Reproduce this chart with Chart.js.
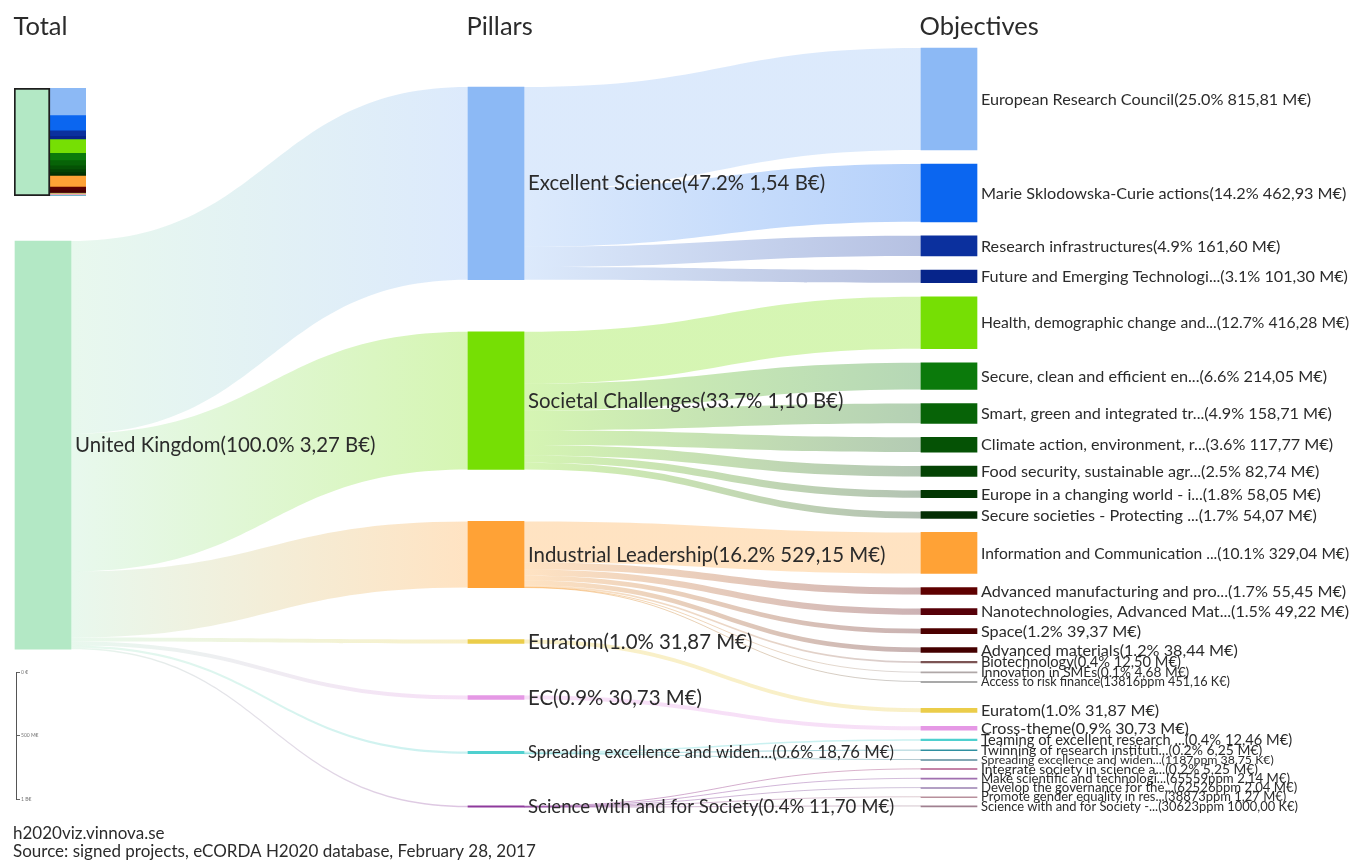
<!DOCTYPE html>
<html>
<head>
<meta charset="utf-8">
<script src="https://cdn.jsdelivr.net/npm/chart.js@4.4.1/dist/chart.umd.min.js"></script>
<style>
html,body{margin:0;padding:0;background:#fff;}
#wrap{position:relative;width:1363px;height:861px;overflow:hidden;}
#main{position:absolute;left:0;top:0;}
#mini{position:absolute;left:14px;top:88px;}
#scale{position:absolute;left:15px;top:662px;}
</style>
</head>
<body>
<div id="wrap">
<canvas id="main" width="1363" height="861"></canvas>
<canvas id="mini" width="72" height="108"></canvas>
<canvas id="scale" width="50" height="145"></canvas>
</div>
<script>
// ---------------- DATA ----------------
const columnTitles = ['Total', 'Pillars', 'Objectives'];

const totalLabel = 'United Kingdom(100.0% 3,27 B€)';
const totalValue = 3265.51; // M€
const totalColor = '#b3e8c5';

const pillarLabels = [
  'Excellent Science(47.2% 1,54 B€)',
  'Societal Challenges(33.7% 1,10 B€)',
  'Industrial Leadership(16.2% 529,15 M€)',
  'Euratom(1.0% 31,87 M€)',
  'EC(0.9% 30,73 M€)',
  'Spreading excellence and widen...(0.6% 18,76 M€)',
  'Science with and for Society(0.4% 11,70 M€)'
];
const pillarValues = [1541.64, 1101.67, 529.15, 31.87, 30.73, 18.76, 11.70];
const pillarColors = ['#8cb9f5', '#76df04', '#ffa236', '#ebcd4a', '#e598e5', '#4fd0cf', '#8e3a9c'];

const objectiveLabels = [
  'European Research Council(25.0% 815,81 M€)',
  'Marie Sklodowska-Curie actions(14.2% 462,93 M€)',
  'Research infrastructures(4.9% 161,60 M€)',
  'Future and Emerging Technologi...(3.1% 101,30 M€)',
  'Health, demographic change and...(12.7% 416,28 M€)',
  'Secure, clean and efficient en...(6.6% 214,05 M€)',
  'Smart, green and integrated tr...(4.9% 158,71 M€)',
  'Climate action, environment, r...(3.6% 117,77 M€)',
  'Food security, sustainable agr...(2.5% 82,74 M€)',
  'Europe in a changing world - i...(1.8% 58,05 M€)',
  'Secure societies - Protecting ...(1.7% 54,07 M€)',
  'Information and Communication ...(10.1% 329,04 M€)',
  'Advanced manufacturing and pro...(1.7% 55,45 M€)',
  'Nanotechnologies, Advanced Mat...(1.5% 49,22 M€)',
  'Space(1.2% 39,37 M€)',
  'Advanced materials(1.2% 38,44 M€)',
  'Biotechnology(0.4% 12,50 M€)',
  'Innovation in SMEs(0.1% 4,68 M€)',
  'Access to risk finance(13816ppm 451,16 K€)',
  'Euratom(1.0% 31,87 M€)',
  'Cross-theme(0.9% 30,73 M€)',
  'Teaming of excellent research ...(0.4% 12,46 M€)',
  'Twinning of research instituti...(0.2% 6,25 M€)',
  'Spreading excellence and widen...(1187ppm 38,75 K€)',
  'Integrate society in science a...(0.2% 5,25 M€)',
  'Make scientific and technologi...(65559ppm 2,14 M€)',
  'Develop the governance for the...(62526ppm 2,04 M€)',
  'Promote gender equality in res...(38873ppm 1,27 M€)',
  'Science with and for Society -...(30623ppm 1000,00 K€)'
];
const objectiveValues = [
  815.81, 462.93, 161.60, 101.30,
  416.28, 214.05, 158.71, 117.77, 82.74, 58.05, 54.07,
  329.04, 55.45, 49.22, 39.37, 38.44, 12.50, 4.68, 0.45116,
  31.87,
  30.73,
  12.46, 6.25, 0.03875,
  5.25, 2.14, 2.04, 1.27, 1.00
];
const objectivePillar = [0,0,0,0, 1,1,1,1,1,1,1, 2,2,2,2,2,2,2,2, 3, 4, 5,5,5, 6,6,6,6,6];
const objectiveColors = [
  '#8cb9f5', '#0b66f0', '#0b309e', '#06248a',
  '#76df04', '#0b7a0b', '#076307', '#055205', '#044304', '#033703', '#032e03',
  '#ffa236', '#5e0000', '#560008', '#4c0000', '#440000', '#7c5454', '#b0a8a8', '#8c8c8c',
  '#ebcd4a',
  '#e598e5',
  '#4fd0cf', '#2f8fa0', '#5a8a9a',
  '#b05a8a', '#a070b0', '#9a80b0', '#b8909c', '#a08090'
];

const scaleTicks = [0, 500, 1000];
const scaleTickLabels = ['0 €', '500 M€', '1 B€'];
const footerLines = ['h2020viz.vinnova.se', 'Source: signed projects, eCORDA H2020 database, February 28, 2017'];

// ---------------- LAYOUT (style constants) ----------------
const FAMILY = 'Lato, "Open Sans", sans-serif';
const TEXT = '#2b2b2b';
const PX_PER_M = 0.125;          // pixels per M€
const U = 1 / PX_PER_M;          // value units per pixel
const Y_MAX = 758 * U;
const TOTAL_TOP = 193 * U, PILLAR_TOP = 39 * U, PILLAR_GAP = 52 * U;
const GAP_L = 14 * U, GAP_S = 9 * U, TINY_PX = 2;
const BOTTOM_GROUP_FROM = 3;     // pillars from this index stack their objectives from the bottom
const FLOW_ALPHA = 0.3;

function gapBetween(a, b) { return Math.min(a, b) * PX_PER_M < TINY_PX ? GAP_S : GAP_L; }

const totalPos = [TOTAL_TOP, TOTAL_TOP + totalValue];
const pillarPos = [];
(function(){ let y = PILLAR_TOP; pillarValues.forEach(v => { pillarPos.push([y, y + v]); y += v + PILLAR_GAP; }); })();

const objPos = new Array(objectiveValues.length);
(function(){
  const topIdx = [], botIdx = [];
  objectiveValues.forEach((v, i) => (objectivePillar[i] < BOTTOM_GROUP_FROM ? topIdx : botIdx).push(i));
  let y = 0;
  topIdx.forEach((i, k) => {
    if (k > 0) y += gapBetween(objectiveValues[topIdx[k-1]], objectiveValues[i]);
    objPos[i] = [y, y + objectiveValues[i]]; y += objectiveValues[i];
  });
  y = Y_MAX;
  for (let k = botIdx.length - 1; k >= 0; k--) {
    const i = botIdx[k];
    if (k < botIdx.length - 1) y -= gapBetween(objectiveValues[i], objectiveValues[botIdx[k+1]]);
    objPos[i] = [y - objectiveValues[i], y]; y -= objectiveValues[i];
  }
})();

const nodes = [];
nodes.push({col: 0, pos: totalPos, value: totalValue, label: totalLabel, color: totalColor, maxF: 20.4, maxW: 390});
pillarValues.forEach((v, i) => nodes.push({col: 1, pos: pillarPos[i], value: v, label: pillarLabels[i], color: pillarColors[i], maxF: 20.4, maxW: 366}));
objectiveValues.forEach((v, i) => {
  const h = v * PX_PER_M;
  const f = Math.max(12.3, Math.min(16.2, 12.2 + 2 * Math.sqrt(h)));
  nodes.push({col: 2, pos: objPos[i], value: v, label: objectiveLabels[i], color: objectiveColors[i], maxF: f, maxW: 368});
});

const links = [];
(function(){
  let s = totalPos[0];
  pillarValues.forEach((v, i) => {
    links.push({sc: 0, tc: 1, s0: s, s1: s + v, t0: pillarPos[i][0], t1: pillarPos[i][1], c0: totalColor, c1: pillarColors[i]});
    s += v;
  });
  const cur = pillarPos.map(p => p[0]);
  objectiveValues.forEach((v, j) => {
    const p = objectivePillar[j];
    links.push({sc: 1, tc: 2, s0: cur[p], s1: cur[p] + v, t0: objPos[j][0], t1: objPos[j][1], c0: pillarColors[p], c1: objectiveColors[j]});
    cur[p] += v;
  });
})();

function rgba(hex, a) {
  const n = parseInt(hex.slice(1), 16);
  return 'rgba(' + ((n >> 16) & 255) + ',' + ((n >> 8) & 255) + ',' + (n & 255) + ',' + a + ')';
}

function halfBar(chart) {
  const el = chart.getDatasetMeta(0).data[0];
  return el ? el.width / 2 : 28;
}

const sankeyPlugin = {
  id: 'sankey',
  beforeDatasetsDraw(chart) {
    const ctx = chart.ctx, xs = chart.scales.x, ys = chart.scales.y, half = halfBar(chart);
    ctx.save();
    links.forEach(l => {
      const x0 = xs.getPixelForValue(l.sc) + half, x1 = xs.getPixelForValue(l.tc) - half, xm = (x0 + x1) / 2;
      const a0 = ys.getPixelForValue(l.s0), a1 = ys.getPixelForValue(l.s1);
      const b0 = ys.getPixelForValue(l.t0), b1 = ys.getPixelForValue(l.t1);
      const th = a1 - a0;
      const alpha = th < 1.2 ? 0.45 : FLOW_ALPHA;
      const g = ctx.createLinearGradient(x0, 0, x1, 0);
      g.addColorStop(0, rgba(l.c0, alpha));
      g.addColorStop(1, rgba(l.c1, alpha));
      ctx.beginPath();
      if (th < 1.2) {
        const am = (a0 + a1) / 2, bm = (b0 + b1) / 2;
        ctx.moveTo(x0, am);
        ctx.bezierCurveTo(xm, am, xm, bm, x1, bm);
        ctx.lineWidth = Math.max(th, 1);
        ctx.strokeStyle = g;
        ctx.stroke();
      } else {
        ctx.moveTo(x0, a0);
        ctx.bezierCurveTo(xm, a0, xm, b0, x1, b0);
        ctx.lineTo(x1, b1);
        ctx.bezierCurveTo(xm, b1, xm, a1, x0, a1);
        ctx.closePath();
        ctx.fillStyle = g;
        ctx.fill();
      }
    });
    ctx.restore();
  },
  afterDatasetsDraw(chart) {
    const ctx = chart.ctx, xs = chart.scales.x, ys = chart.scales.y, half = halfBar(chart);
    ctx.save();
    ctx.fillStyle = TEXT;
    ctx.textBaseline = 'middle';
    ctx.textAlign = 'left';
    nodes.forEach(n => {
      const x = xs.getPixelForValue(n.col) + half + 4;
      const y = (ys.getPixelForValue(n.pos[0]) + ys.getPixelForValue(n.pos[1])) / 2;
      let f = n.maxF;
      ctx.font = f + 'px ' + FAMILY;
      const w = ctx.measureText(n.label).width;
      if (w > n.maxW) { f = f * n.maxW / w; ctx.font = f.toFixed(2) + 'px ' + FAMILY; }
      ctx.fillText(n.label, x, y + 0.5);
    });
    ctx.textBaseline = 'alphabetic';
    // column headers
    ctx.font = '25.5px ' + FAMILY;
    columnTitles.forEach((t, i) => {
      ctx.fillText(t, xs.getPixelForValue(i) - half - 1.5, 35);
    });
    // footer
    ctx.font = '17px ' + FAMILY;
    ctx.fillText(footerLines[0], 13, 839);
    ctx.fillText(footerLines[1], 13, 857);
    ctx.restore();
  }
};

new Chart(document.getElementById('main'), {
  type: 'bar',
  data: {
    labels: columnTitles,
    datasets: [{
      data: nodes.map(n => ({x: columnTitles[n.col], y: n.pos})),
      backgroundColor: nodes.map(n => n.color),
      borderWidth: 0,
      barThickness: 56,
      minBarLength: 1,
      clip: false
    }]
  },
  options: {
    responsive: false,
    animation: false,
    events: [],
    layout: {padding: {left: 43, right: 414, top: 48, bottom: 55}},
    plugins: {legend: {display: false}, tooltip: {enabled: false}},
    scales: {
      x: {type: 'category', offset: false, display: false},
      y: {type: 'linear', min: 0, max: Y_MAX, reverse: true, display: false}
    }
  },
  plugins: [sankeyPlugin]
});

// mini overview
new Chart(document.getElementById('mini'), {
  type: 'bar',
  data: {
    labels: ['total', 'objectives'],
    datasets: [{data: [totalValue, null], backgroundColor: totalColor, borderColor: '#1e1e1e', borderWidth: 2, borderSkipped: false}]
      .concat(objectiveValues.map((v, i) => ({data: [null, v], backgroundColor: objectiveColors[i], borderWidth: 0})))
  },
  options: {
    responsive: false, animation: false, events: [],
    layout: {padding: 0},
    plugins: {legend: {display: false}, tooltip: {enabled: false}},
    datasets: {bar: {categoryPercentage: 1, barPercentage: 1}},
    scales: {
      x: {stacked: true, display: false},
      y: {stacked: true, display: false, min: 0, max: totalValue, reverse: true}
    }
  }
});

// scale bar
new Chart(document.getElementById('scale'), {
  type: 'scatter',
  data: {datasets: [{data: []}]},
  options: {
    responsive: false, animation: false, events: [],
    layout: {padding: {top: 10, bottom: 8, left: 0, right: 0}},
    plugins: {legend: {display: false}, tooltip: {enabled: false}},
    scales: {
      x: {display: false, min: 0, max: 1},
      y: {
        position: 'right', min: 0, max: 1000, reverse: true,
        afterBuildTicks: s => { s.ticks = scaleTicks.map(v => ({value: v})); },
        afterFit: s => { s.width = 49; },
        ticks: {callback: (v, i) => scaleTickLabels[i], font: {size: 5, family: FAMILY}, color: '#777', padding: 1},
        grid: {drawOnChartArea: false, tickLength: 4, color: '#666'},
        border: {display: true, color: '#555', width: 1}
      }
    }
  }
});
</script>
</body>
</html>
